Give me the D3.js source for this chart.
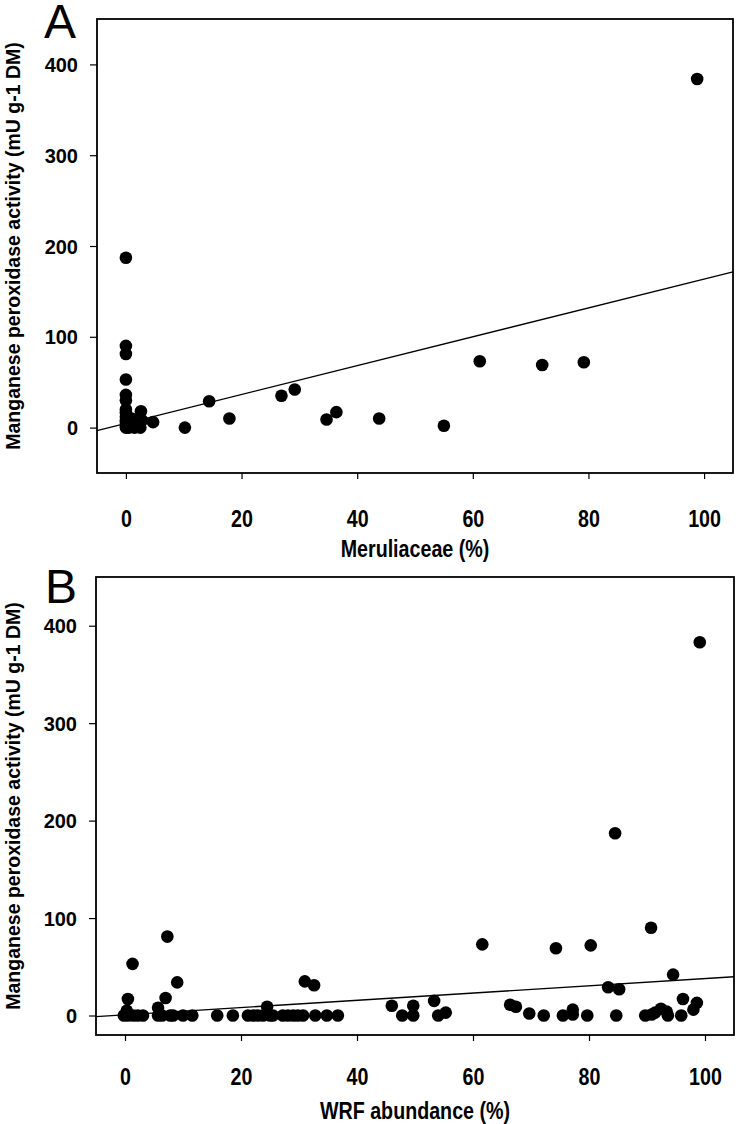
<!DOCTYPE html>
<html><head><meta charset="utf-8">
<script src="https://cdn.jsdelivr.net/npm/d3@7"></script>
<style>
body{margin:0;background:#fff;}
svg text{font-family:"Liberation Sans",Arial,sans-serif;fill:#000;}
</style></head>
<body><svg id="c" width="739" height="1124"></svg>
<script>
// Panel A: Meruliaceae (%) vs MnP activity
const merulX = [98.8,0,0,0,0,0,0,0,0,0,0,0,0,0,0.5,1,1.5,2,2.5,2.8,2.6,4.7,10.2,14.4,17.9,26.9,29.2,34.7,36.4,43.8,55,61.2,72,79.2];
const merulY = [384,187,90,81,53,36,30,20,16,12,8,5,2,0,0,10,0,3,0,8,18,6,0,29,10,35,42,9,17,10,2,73,69,72];
// Panel B: WRF abundance (%) vs MnP activity
const wrfX = [99.1,84.5,90.7,61.6,74.3,80.3,94.5,83.3,85.2,96.2,98.6,98,
  1.3,7.3,9,0.5,7,5.7,24.5,31,32.6,46,0.3,
  -0.2,0.5,1.4,2.2,3.1,5.7,6.4,7.8,8.3,10,11.6,15.9,18.6,21.2,22.1,22.9,23.8,25,25.5,27.2,28.1,29,29.8,30.7,32.8,34.8,36.7,47.8,
  49.7,53.3,55.3,54,49.7,66.4,67.4,69.7,72.2,75.5,77.2,77.2,79.7,84.7,89.7,90.8,91.4,92.4,93.6,93.4,95.9];
const wrfY = [383,187,90,73,69,72,42,29,27,17,13,6,
  53,81,34,17,18,8,9,35,31,10,5,
  0,0,0,0,0,0,0,0,0,0,0,0,0,0,0,0,0,0,0,0,0,0,0,0,0,0,0,0,
  10,15,3,0,0,11,9,2,0,0,6,1,0,0,0,1,3,7,0,4,0];
// Fitted regression lines (intercept, slope)
const fitA = [4.6, 1.59];
const fitB = [0.7, 0.372];
const xTicks = [0,20,40,60,80,100];
const yTicks = [0,100,200,300,400];
const yTitle = "Manganese peroxidase activity (mU g-1 DM)";

const svg = d3.select("#c");
const NARROW = 0.82;

function panel(cfg){
  const g = svg.append("g");
  const x = d3.scaleLinear().domain([-5,105]).range([cfg.left,cfg.right]);
  const y = d3.scaleLinear().domain(cfg.yDom).range([cfg.bottom,cfg.top]);
  g.append("rect").attr("x",cfg.left).attr("y",cfg.top)
    .attr("width",cfg.right-cfg.left).attr("height",cfg.bottom-cfg.top)
    .attr("fill","none").attr("stroke","#000").attr("stroke-width",1.8);
  const xa = g.append("g").attr("transform",`translate(0,${cfg.bottom})`)
    .call(d3.axisBottom(x).tickValues(xTicks).tickSize(6).tickPadding(0).tickFormat(d3.format("d")));
  const ya = g.append("g").attr("transform",`translate(${cfg.left},0)`)
    .call(d3.axisLeft(y).tickValues(yTicks).tickSize(7).tickPadding(0).tickFormat(d3.format("d")));
  [xa,ya].forEach(a=>{a.select(".domain").remove();
    a.selectAll(".tick line").attr("stroke","#000").attr("stroke-width",1.2);
    a.selectAll(".tick text").attr("font-weight","bold")
     .attr("font-family","'Liberation Sans',Arial,sans-serif");});
  xa.selectAll(".tick text").attr("font-size",24).attr("y",0).attr("dy",0)
    .attr("transform",`translate(0,${cfg.xTickDy}) scale(${NARROW},1)`);
  ya.selectAll(".tick text").attr("font-size",20).attr("x",-19).attr("dy","0.35em");
  const xs = [-5,105];
  g.append("line")
    .attr("x1",x(xs[0])).attr("y1",y(cfg.fit[0]+cfg.fit[1]*xs[0]))
    .attr("x2",x(xs[1])).attr("y2",y(cfg.fit[0]+cfg.fit[1]*xs[1]))
    .attr("stroke","#000").attr("stroke-width",1.3);
  g.selectAll("circle.p").data(cfg.xs.map((v,i)=>[v,cfg.ys[i]])).join("circle")
    .attr("cx",d=>x(d[0])).attr("cy",d=>y(d[1])).attr("r",6.3).attr("fill","#000");
  g.append("text").attr("transform",`translate(${(cfg.left+cfg.right)/2},${cfg.xTitleY}) scale(${NARROW},1)`)
    .attr("text-anchor","middle").attr("font-size",24).attr("font-weight","bold").text(cfg.xTitle);
  g.append("text").attr("transform",`translate(20,${(cfg.top+cfg.bottom)/2}) rotate(-90)`)
    .attr("text-anchor","middle").attr("font-size",19.5).attr("font-weight","bold").text(yTitle);
  g.append("text").attr("x",cfg.labX).attr("y",cfg.labY).attr("font-size",48).text(cfg.label);
}

panel({left:97,right:733,top:19,bottom:473,yDom:[-50,450],xs:merulX,ys:merulY,fit:fitA,
  xTitle:"Meruliaceae (%)",xTickDy:54,xTitleY:557,label:"A",labX:44,labY:38});
panel({left:96,right:734,top:577,bottom:1035,yDom:[-20,450],xs:wrfX,ys:wrfY,fit:fitB,
  xTitle:"WRF abundance (%)",xTickDy:50,xTitleY:1119,label:"B",labX:45,labY:603});
</script></body></html>
